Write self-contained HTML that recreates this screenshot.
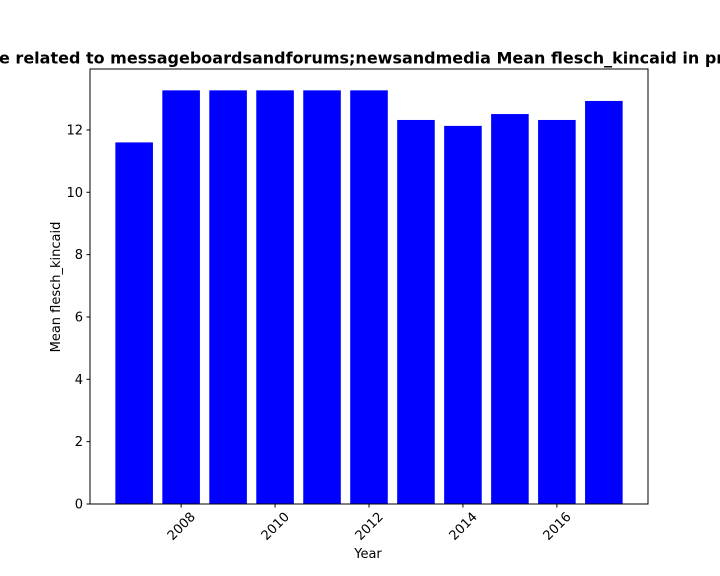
<!DOCTYPE html>
<html><head><meta charset="utf-8"><style>
html,body{margin:0;padding:0;background:#fff;overflow:hidden}
svg{display:block;font-family:"DejaVu Sans","Liberation Sans",sans-serif}
</style></head><body>
<svg id="chart" width="720" height="576" viewBox="0 0 720 576">
<text x="-1" y="63.5" font-size="16" font-weight="bold" fill="#000">e related to messageboardsandforums;newsandmedia Mean flesch_kincaid in profile</text>
<g id="bars"></g>
<rect x="90" y="69" width="558" height="435" fill="none" stroke="#000" stroke-width="1"/>
<g id="yticks"></g>
<g id="xticks"></g>
<text x="368" y="558" font-size="13" text-anchor="middle">Year</text>
<text transform="translate(60,287) rotate(-90)" font-size="13" text-anchor="middle">Mean flesch_kincaid</text>
</svg>
<script>
const years=[2007,2008,2009,2010,2011,2012,2013,2014,2015,2016,2017];
const values=[11.6,13.27,13.27,13.27,13.27,13.27,12.32,12.13,12.51,12.32,12.93];
const yTickVals=[0,2,4,6,8,10,12];
const xTickVals=[2008,2010,2012,2014,2016];
const NS="http://www.w3.org/2000/svg";
const x0=90,x1=648,y0=504,y1=69;
const xs=v=>x0+(v-2006.06)/(2017.94-2006.06)*(x1-x0);
const ys=v=>y0-v/13.955*(y0-y1);
const bars=document.getElementById('bars');
years.forEach((yr,i)=>{
 const r=document.createElementNS(NS,'rect');
 const w=xs(yr+0.4)-xs(yr-0.4);
 r.setAttribute('x',xs(yr-0.4));r.setAttribute('width',w);
 r.setAttribute('y',ys(values[i]));r.setAttribute('height',y0-ys(values[i]));
 r.setAttribute('fill','#0000ff');
 
 
 bars.appendChild(r);
});
const yt=document.getElementById('yticks');
yTickVals.forEach(v=>{
 const y=ys(v);
 const l=document.createElementNS(NS,'line');
 l.setAttribute('x1',86.5);l.setAttribute('x2',90);l.setAttribute('y1',y);l.setAttribute('y2',y);l.setAttribute('stroke','#000');
 
 
 yt.appendChild(l);
 const t=document.createElementNS(NS,'text');
 t.setAttribute('x',83);t.setAttribute('y',y+4.5);t.setAttribute('font-size','13');t.setAttribute('text-anchor','end');
 t.textContent=v;
 
 
 yt.appendChild(t);
});
const xt=document.getElementById('xticks');
xTickVals.forEach(v=>{
 const x=xs(v);
 const l=document.createElementNS(NS,'line');
 l.setAttribute('x1',x);l.setAttribute('x2',x);l.setAttribute('y1',504);l.setAttribute('y2',507.5);l.setAttribute('stroke','#000');
 
 
 xt.appendChild(l);
 const t=document.createElementNS(NS,'text');
 t.setAttribute('transform','translate('+x+',526) rotate(-45)');
 t.setAttribute('font-size','13');t.setAttribute('text-anchor','middle');t.setAttribute('dy','4.5');
 t.textContent=v;
 
 
 xt.appendChild(t);
});
</script>
</body></html>
